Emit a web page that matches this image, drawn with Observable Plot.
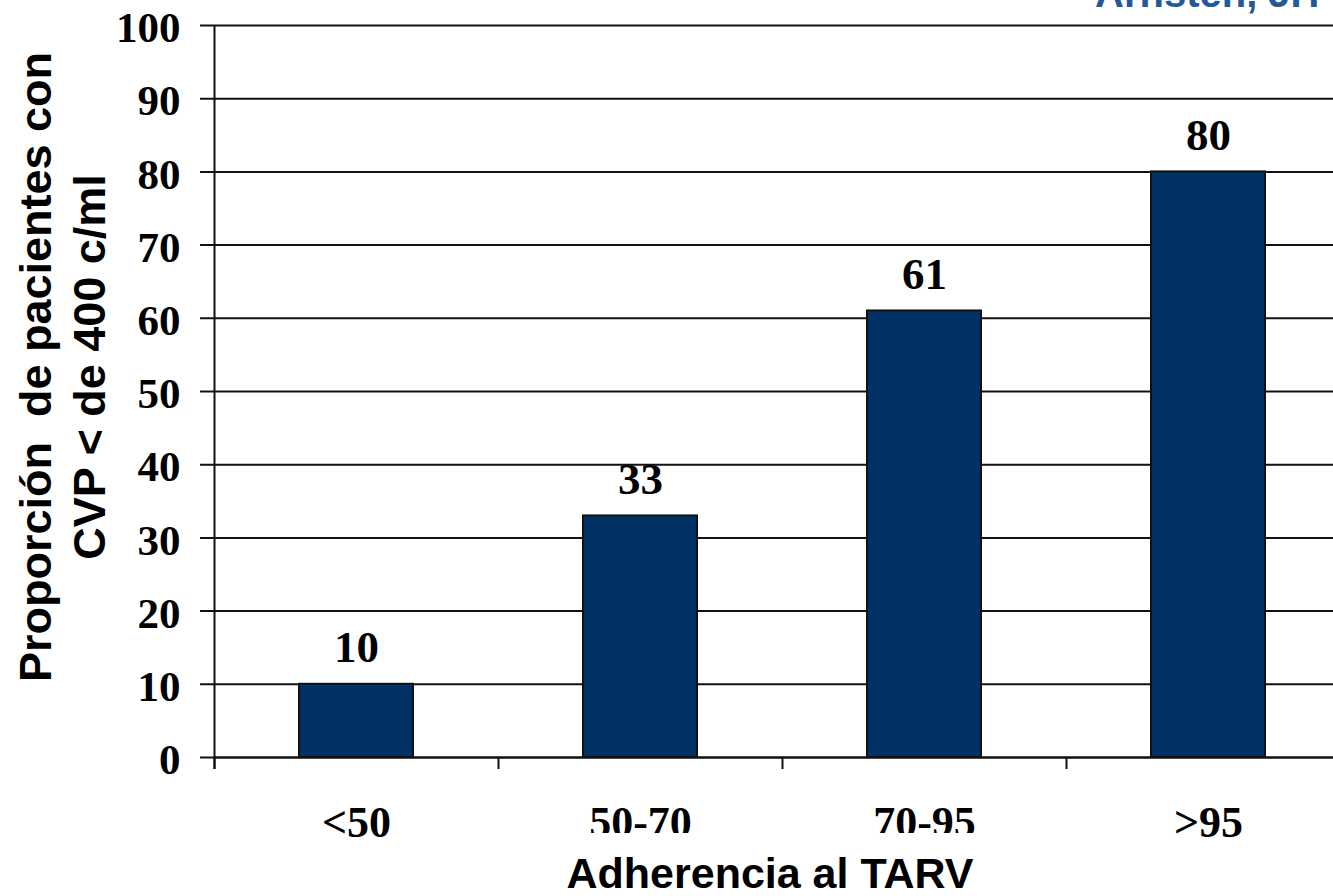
<!DOCTYPE html>
<html>
<head>
<meta charset="utf-8">
<script src="https://cdn.jsdelivr.net/npm/d3@7"></script>
<script src="https://cdn.jsdelivr.net/npm/@observablehq/plot@0.6"></script>
<style>
  html, body { margin: 0; padding: 0; background: #fff; overflow: hidden; width: 1333px; height: 896px; }
  #wrap { position: relative; width: 1333px; height: 896px; overflow: hidden; }
  #chart { position: absolute; left: 0; top: 0; width: 1350px; }
  #chart svg { max-width: none !important; }
  .ytitle {
    position: absolute; left: 63px; top: 367px;
    transform: translate(-50%, -50%) rotate(-90deg);
    font-family: "Liberation Sans", Arial, sans-serif; font-weight: bold;
    font-size: 45px; line-height: 54px; text-align: center; white-space: pre; color: #000;
  }
  .xtitle {
    position: absolute; left: 555px; top: 833px; width: 430px; padding-top: 10px;
    font-family: "Liberation Sans", Arial, sans-serif; font-weight: bold;
    font-size: 43px; line-height: 60px; text-align: center; white-space: pre;
    background: #fff; color: #000;
  }
  .source {
    position: absolute; left: 1095px; top: -27px;
    font-family: "Liberation Sans", Arial, sans-serif; font-weight: bold;
    font-size: 40px; line-height: 40px; white-space: pre; color: #1f5a9c;
  }
</style>
</head>
<body>
<div id="wrap">
  <div id="chart"></div>
  <div class="ytitle">Proporción  de pacientes con
CVP &lt; de 400 c/ml</div>
  <div class="xtitle">Adherencia al TARV</div>
  <div class="source">Arnsten, JH</div>
</div>
<script>
const categories = ["<50", "50-70", "70-95", ">95"];
const values = [10, 33, 61, 80];
const yTicks = [0, 10, 20, 30, 40, 50, 60, 70, 80, 90, 100];

const data = categories.map((c, i) => ({cat: c, i, value: values[i]}));
const boundaries = d3.range(0, categories.length + 1);

const serif = "'Liberation Serif', 'Times New Roman', serif";

const chart = Plot.plot({
  width: 1350,
  height: 896,
  marginLeft: 214,
  marginRight: 0,
  marginTop: 25,
  marginBottom: 139,
  x: {type: "linear", domain: [0, categories.length], axis: null},
  y: {type: "linear", domain: [0, 100], axis: null},
  marks: [
    Plot.ruleY(yTicks, {y: d => d, stroke: "#111", strokeWidth: 2, insetLeft: -14}),
    Plot.ruleX([0], {x: d => d, stroke: "#111", strokeWidth: 2, insetBottom: -12}),
    Plot.ruleX(boundaries, {x: d => d, y1: 0, y2: 0, stroke: "#111", strokeWidth: 2, insetBottom: -12}),
    Plot.rectY(data, {
      x1: d => d.i, x2: d => d.i + 1, y1: 0, y2: "value",
      fill: "#023263", stroke: "#111", strokeWidth: 2,
      insetLeft: 85, insetRight: 85
    }),
    Plot.ruleY([0], {y: d => d, stroke: "#111", strokeWidth: 2}),
    Plot.text(data, {
      x: d => d.i + 0.5, y: "value", text: d => String(d.value),
      lineAnchor: "bottom", dy: -22, textAnchor: "middle",
      fontFamily: serif, fontWeight: "bold", fontSize: 45, fill: "#000"
    }),
    Plot.text(yTicks, {
      y: d => d, text: d => String(d), frameAnchor: "left",
      textAnchor: "end", dx: -34, dy: 3,
      fontFamily: serif, fontWeight: "bold", fontSize: 43, fill: "#000"
    }),
    Plot.text(data, {
      x: d => d.i + 0.5, text: "cat", frameAnchor: "bottom",
      lineAnchor: "bottom", dy: 79, textAnchor: "middle",
      fontFamily: serif, fontWeight: "bold", fontSize: 44, fill: "#000"
    })
  ]
});
chart.style.maxWidth = "none";
chart.style.overflow = "visible";
document.getElementById("chart").appendChild(chart);
</script>
</body>
</html>
